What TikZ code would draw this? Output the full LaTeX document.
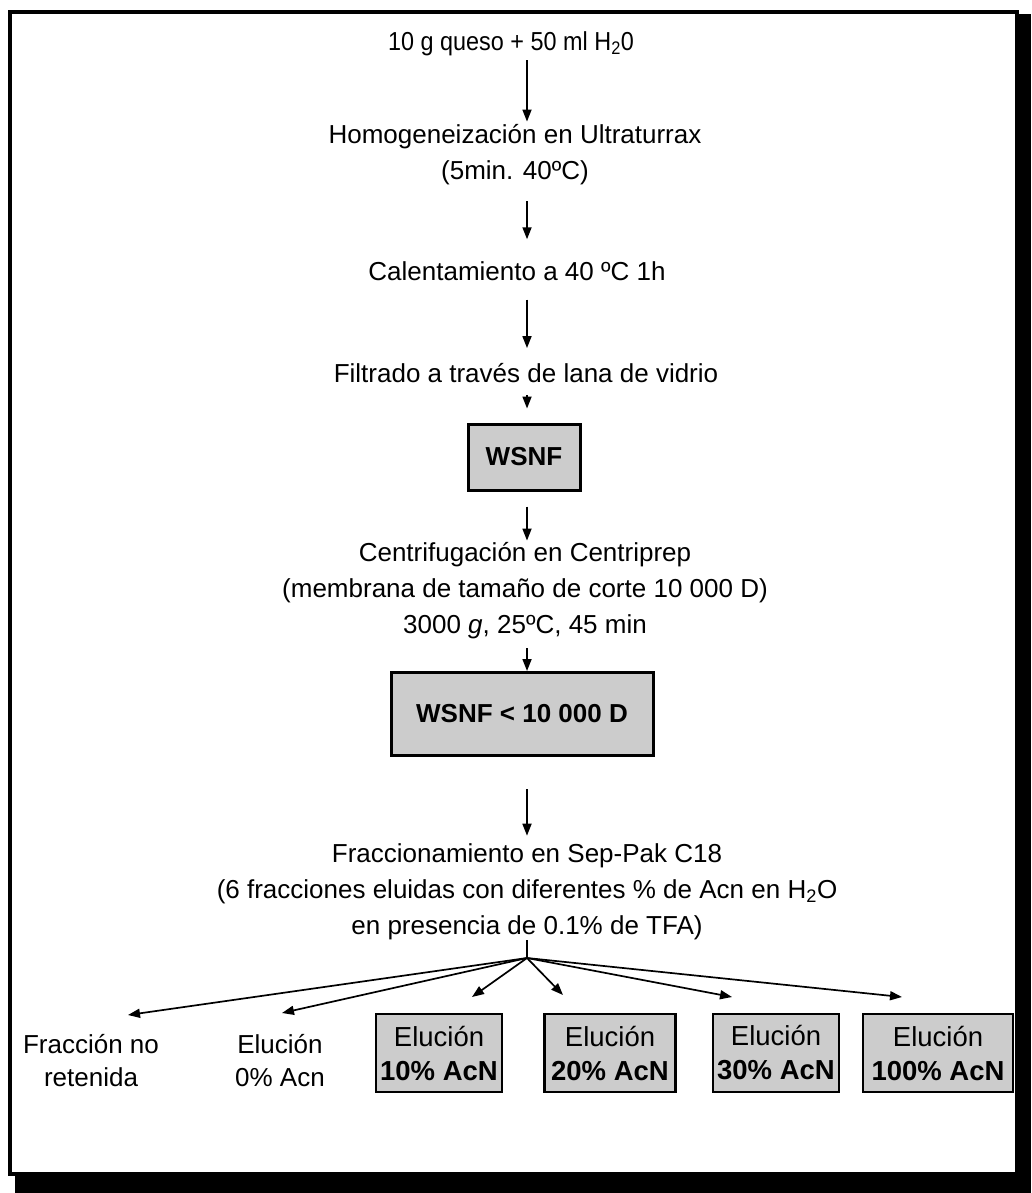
\documentclass[tikz,border=0pt]{standalone}
\usepackage{tikz}
\usepackage{xcolor}
\usepackage{amsmath}
\usepackage{graphicx}
\usepackage{fontspec}
\setmainfont{Liberation Sans}
\usetikzlibrary{arrows.meta}

\tikzset{
    flecha/.style={line width=1.7pt, -{Triangle[length=12pt,width=9pt]}},
    caja/.style={draw, line width=3pt, fill=black!20, font=\fontsize{26}{33}\selectfont\bfseries},
    fraccion/.style={draw, line width=2.5pt, fill=black!20, align=center, inner xsep=4pt, inner ysep=4pt, minimum height=78pt, font=\fontsize{27.5}{34}\selectfont}
}

\begin{document}
\begin{tikzpicture}[x=1pt, y=-1pt, font=\fontsize{26}{36}\selectfont, inner sep=0pt]
            \useasboundingbox (0,0) rectangle (1031,1193);
            % Frame with shadow
            \fill[black] (15,14) rectangle (1031,1193);
            \draw[line width=3.5pt, fill=white] (10,12) rectangle (1017,1174);
            
            % Steps
            \node (S1) at (511, 44) {\scalebox{0.9}[1]{10 g queso + 50 ml H\textsubscript{2}0}};
            \node (S2) at (515, 155) [align=center] {Homogeneización en Ultraturrax\\(5min. 40ºC)};
            \node (S3) at (517, 271) {Calentamiento a 40 ºC 1h};
            \node (S4) at (526, 373) {Filtrado a través de lana de vidrio};
            \node (S5) at (524, 457) [caja, minimum width=112pt, minimum height=66pt] {WSNF};
            \node (S6) at (525, 591) [align=center] {Centrifugación en Centriprep\\(membrana de tamaño de corte 10 000 D)\\3000 \textit{g}, 25ºC, 45 min};
            \node (S7) at (522, 714) [caja, minimum width=262pt, minimum height=83pt] {WSNF < 10 000 D};
            \node (S8) at (527, 892) [align=center] {Fraccionamiento en Sep-Pak C18\\(6 fracciones eluidas con diferentes \% de Acn en H\textsubscript{2}O\\en presencia de 0.1\% de TFA)};
            
            % Vertical arrows on one axis
            \coordinate (axis) at (527, 0);
            \draw[flecha, shorten <=4pt, shorten >=3pt] (S1.south -| axis) -- (S2.north -| axis);
            \draw[flecha, shorten <=16pt, shorten >=22pt] (S2.south -| axis) -- (S3.north -| axis);
            \draw[flecha, shorten <=19pt, shorten >=15pt] (S3.south -| axis) -- (S4.north -| axis);
            \draw[flecha, shorten <=12pt, shorten >=14pt] (S4.south -| axis) -- (S5.north -| axis);
            \draw[flecha, shorten <=15pt, shorten >=2pt] (S5.south -| axis) -- (S6.north -| axis);
            \draw[flecha, shorten <=9pt, shorten >=0pt] (S6.south -| axis) -- (S7.north -| axis);
            \draw[flecha, shorten <=32pt, shorten >=8pt] (S7.south -| axis) -- (S8.north -| axis);
            
            % Fractions
            \node (F1) at (91, 1061) [align=center, font=\fontsize{26}{33}\selectfont] {Fracción no\\retenida};
            \node (F2) at (280, 1061) [align=center, font=\fontsize{26}{33}\selectfont] {Elución\\0\% Acn};
            \node (F3) at (439, 1053) [fraccion, minimum width=126pt] {Elución\\\textbf{10\% AcN}};
            \node (F4) at (610, 1053) [fraccion, minimum width=131pt] {Elución\\\textbf{20\% AcN}};
            \node (F5) at (776, 1053) [fraccion, minimum width=122pt] {Elución\\\textbf{30\% AcN}};
            \node (F6) at (938, 1053) [fraccion, minimum width=150pt] {Elución\\\textbf{100\% AcN}};
            
            % Fan out
            \coordinate (R) at (527, 958);
            \coordinate (T1) at (128, 1015);
            \coordinate (T2) at (282, 1013);
            \coordinate (T3) at (472, 997);
            \coordinate (T4) at (563, 995);
            \coordinate (T5) at (732, 997);
            \coordinate (T6) at (902, 997);
            
            \draw[line width=1.7pt] (S8.south -| R) -- (R);
            \draw[flecha] (R) -- (T1);
            \draw[flecha] (R) -- (T2);
            \draw[flecha] (R) -- (T3);
            \draw[flecha] (R) -- (T4);
            \draw[flecha] (R) -- (T5);
            \draw[flecha] (R) -- (T6);
        \end{tikzpicture}
\end{document}
